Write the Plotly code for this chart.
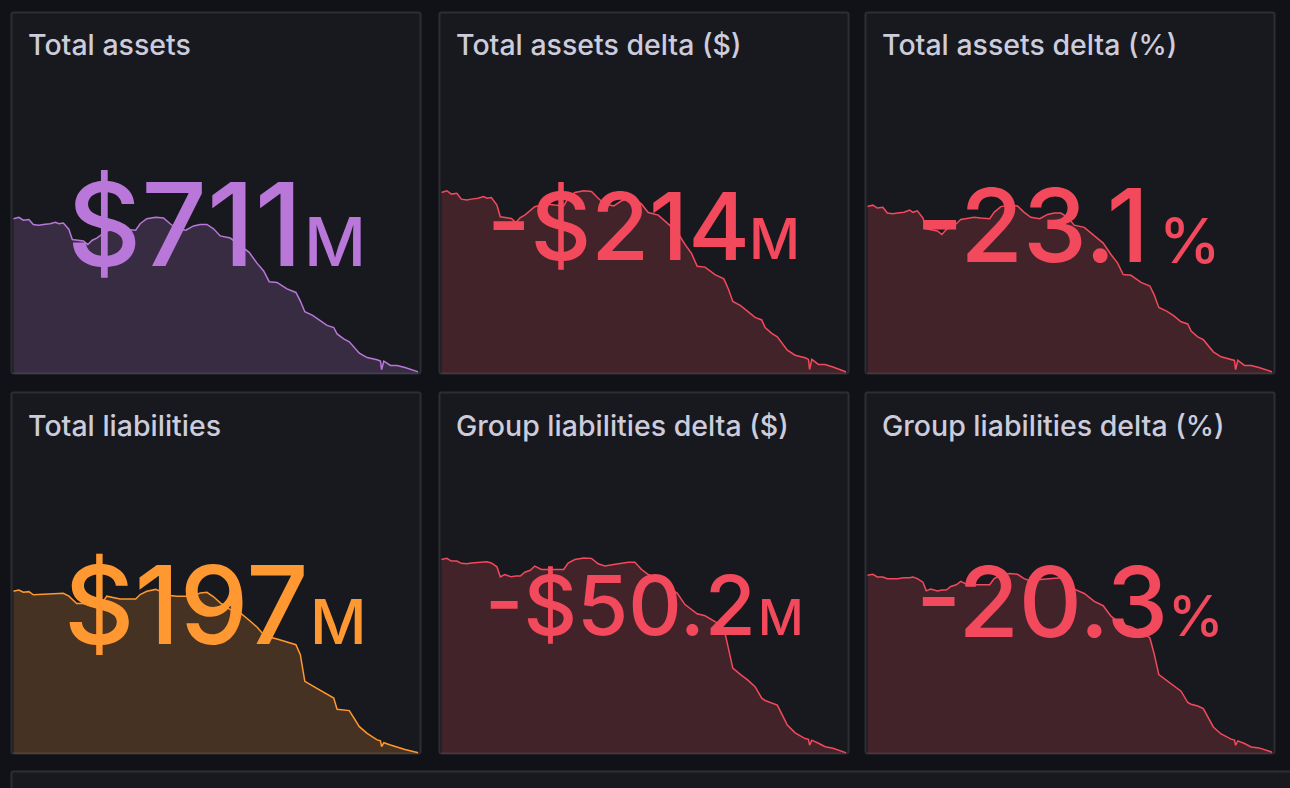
import plotly.graph_objects as go

days = [0,5,9,14,18,23,27,33,38,41,45,50,53,57,63,67,71,75,80,84,90,96,102,110,114,120,128,135,141,147,155,162,168,174,180,186,195,204,212,219,225,230,237,246,254,258,262,269,275,282,288,291,297,302,311,318,327,330,331,333,339,345,352,364]

total_assets = [925,927,923,924,917,916,917,918,920,918,919,910,896,895,894,889,895,898,903,908,910,911,910,909,918,925,927,926,918,911,909,915,917,917,911,901,898,887,878,863,852,837,836,827,822,810,795,790,784,776,773,764,757,753,737,731,728,726,714,726,720,720,717,711]
assets_delta_usd = [0,2,-2,-1,-8,-9,-8,-7,-5,-7,-6,-15,-29,-30,-31,-36,-30,-27,-22,-17,-15,-14,-15,-16,-7,0,2,1,-7,-14,-16,-10,-8,-8,-14,-24,-27,-38,-47,-62,-73,-88,-89,-98,-103,-115,-130,-135,-141,-149,-152,-161,-168,-172,-188,-194,-197,-199,-211,-199,-205,-205,-208,-214]
assets_delta_pct = [0,.2,-.2,-.1,-.9,-1,-.9,-.8,-.5,-.8,-.6,-1.6,-3.1,-3.2,-3.4,-3.9,-3.2,-2.9,-2.4,-1.8,-1.6,-1.5,-1.6,-1.7,-.8,0,.2,.1,-.8,-1.5,-1.7,-1.1,-.9,-.9,-1.5,-2.6,-2.9,-4.1,-5.1,-6.7,-7.9,-9.5,-9.6,-10.6,-11.1,-12.4,-14.1,-14.6,-15.2,-16.1,-16.4,-17.4,-18.2,-18.6,-20.3,-21.0,-21.3,-21.5,-22.8,-21.5,-22.2,-22.2,-22.5,-23.1]
total_liabilities = [247.2,247.6,246.9,247.1,246.1,246.2,246.4,246.5,246.5,246.6,246.6,245.7,244.6,243.4,243.4,243.1,242.6,242.8,243.6,245.7,245.2,244.8,244.8,244.8,246.2,247.2,247.8,246.7,245.9,245.7,245.7,245.7,246.7,246.9,245.5,243.6,241.5,240.5,238.2,236.1,233.7,233.0,232.4,231.5,230.6,227.5,219.2,217.8,216.6,215.0,214.0,210.5,210.3,210.1,205.1,203.0,201.0,200.7,198.9,200.1,199.4,198.7,198.0,197]
group_delta_usd = [0,0.3,-0.4,-0.4,-1.0,-1.1,-0.9,-0.7,-0.7,-0.6,-0.9,-1.9,-4.5,-3.9,-4.5,-4.3,-4.3,-3.3,-2.8,-1.7,-2.6,-2.6,-2.6,-2.6,-0.9,0,0.4,0.3,-1.1,-1.7,-1.3,-0.9,-0.7,-0.7,-2.6,-3.9,-5.2,-7.4,-8.7,-11.7,-13.0,-14.1,-14.6,-16.1,-17.8,-22.6,-28.2,-29.9,-31.2,-33.0,-36.0,-36.6,-37.2,-37.8,-43.0,-45.0,-46.5,-46.7,-48.2,-46.9,-47.7,-48.6,-49.0,-50.2]
group_delta_pct = [0,.1,-.2,-.2,-.4,-.4,-.4,-.3,-.3,-.2,-.4,-.8,-1.8,-1.6,-1.8,-1.7,-1.7,-1.3,-1.1,-.7,-1.1,-1.1,-1.1,-1.1,-.4,0,.2,.1,-.4,-.7,-.5,-.4,-.3,-.3,-1.1,-1.6,-2.1,-3.0,-3.5,-4.7,-5.3,-5.7,-5.9,-6.5,-7.2,-9.1,-11.4,-12.1,-12.6,-13.3,-14.6,-14.8,-15.0,-15.3,-17.4,-18.2,-18.8,-18.9,-19.5,-19.0,-19.3,-19.7,-19.8,-20.3]

titles = ["Total assets","Total assets delta ($)","Total assets delta (%)","Total liabilities","Group liabilities delta ($)","Group liabilities delta (%)"]
numbers = ["$711","-$214","-23.1","$197","-$50.2","-20.3"]
units = ["M","M","%","M","M","%"]
series = [total_assets,assets_delta_usd,assets_delta_pct,total_liabilities,group_delta_usd,group_delta_pct]
y_ranges = [(708,1214),(-216.4,215),(-23.4,27.2),(196.6,309.2),(-50.5,43.5),(-20.5,21)]

W,H = 1290,788
PURPLE,ORANGE,RED = "#b877d9","#ff9830","#f2495c"
line_colors = [PURPLE,RED,RED,ORANGE,RED,RED]
fill_colors = ["rgba(184,119,217,0.2)","rgba(242,73,92,0.2)","rgba(242,73,92,0.2)","rgba(255,152,48,0.2)","rgba(242,73,92,0.2)","rgba(242,73,92,0.2)"]

col_x = [(11,421),(439,849),(865,1275)]
row_y = [(12,374),(392,754)]
# layout of the big value text: number right edge, unit left edge, baseline, sizes
big = [(304,302,268,115,68),(752,747,262,94,56),(1151,1157,265,102,62),
       (310,308,646,109,62),(758,756,637,83,50),(1170,1166,639,98,56)]
FONT = "Inter"

def px(v): return v/W
def py(v): return 1-v/H

def rounded(x0,y0,x1,y1,r=2):
    X0,X1,Y0,Y1 = px(x0),px(x1),py(y0),py(y1)
    rx,ry = r/W,r/H
    return (f"M{X0+rx},{Y0} L{X1-rx},{Y0} Q{X1},{Y0} {X1},{Y0-ry} L{X1},{Y1+ry} Q{X1},{Y1} {X1-rx},{Y1} "
            f"L{X0+rx},{Y1} Q{X0},{Y1} {X0},{Y1+ry} L{X0},{Y0-ry} Q{X0},{Y0} {X0+rx},{Y0} Z")

fig = go.Figure()
shapes,ann,axes = [],[],{}
BORDER,PANEL = "#2c2e34","#18191e"
for i in range(6):
    c,r = i%3,i//3
    x0,x1 = col_x[c]; y0,y1 = row_y[r]
    shapes.append(dict(type="path",xref="paper",yref="paper",path=rounded(x0+.5,y0+.5,x1-.5,y1-.5),
                       fillcolor=PANEL,line=dict(color=BORDER,width=2),layer="below"))
    s = "" if i==0 else str(i+1)
    lo,hi = y_ranges[i]
    axes["xaxis"+s] = dict(domain=[px(x0+2.3),px(x1-2.7)],range=[0,364],visible=False,fixedrange=True,anchor="y"+s)
    axes["yaxis"+s] = dict(domain=[py(y1),py(y0)],range=[lo,hi],visible=False,fixedrange=True,anchor="x"+s)
    fig.add_trace(go.Scatter(x=days,y=[lo]*len(days),mode="lines",line=dict(width=0),hoverinfo="skip",
                             showlegend=False,xaxis="x"+s,yaxis="y"+s))
    fig.add_trace(go.Scatter(x=days,y=series[i],mode="lines",fill="tonexty",fillcolor=fill_colors[i],
                             line=dict(color=line_colors[i],width=1.5),showlegend=False,xaxis="x"+s,yaxis="y"+s))
    ann.append(dict(text=titles[i],xref="paper",yref="paper",x=px(x0+15),y=py(y0+33),xanchor="left",yanchor="middle",
                    showarrow=False,font=dict(family=FONT,size=28.5,color="#ccccdc",weight=500)))
    nr,ul,base,ns,us = big[i]
    ann.append(dict(text=numbers[i],xref="paper",yref="paper",x=px(nr),y=py(base+0.24*ns),xanchor="right",yanchor="bottom",
                    showarrow=False,font=dict(family=FONT,size=ns,color=line_colors[i],weight=500)))
    ann.append(dict(text=units[i],xref="paper",yref="paper",x=px(ul),y=py(base+0.24*us),xanchor="left",yanchor="bottom",
                    showarrow=False,font=dict(family=FONT,size=us,color=line_colors[i],weight=500)))

shapes.append(dict(type="path",xref="paper",yref="paper",path=rounded(11.5,771.5,1300,800),
                   fillcolor=PANEL,line=dict(color=BORDER,width=2),layer="below"))

fig.update_layout(width=W,height=H,margin=dict(l=0,r=0,t=0,b=0),paper_bgcolor="#111217",plot_bgcolor="rgba(0,0,0,0)",
                  showlegend=False,shapes=shapes,annotations=ann,**axes)
fig.write_html("out.html",config={"displayModeBar":False},
               post_script="document.body.style.margin='0';document.body.style.background='#111217';document.body.style.overflow='hidden';")
